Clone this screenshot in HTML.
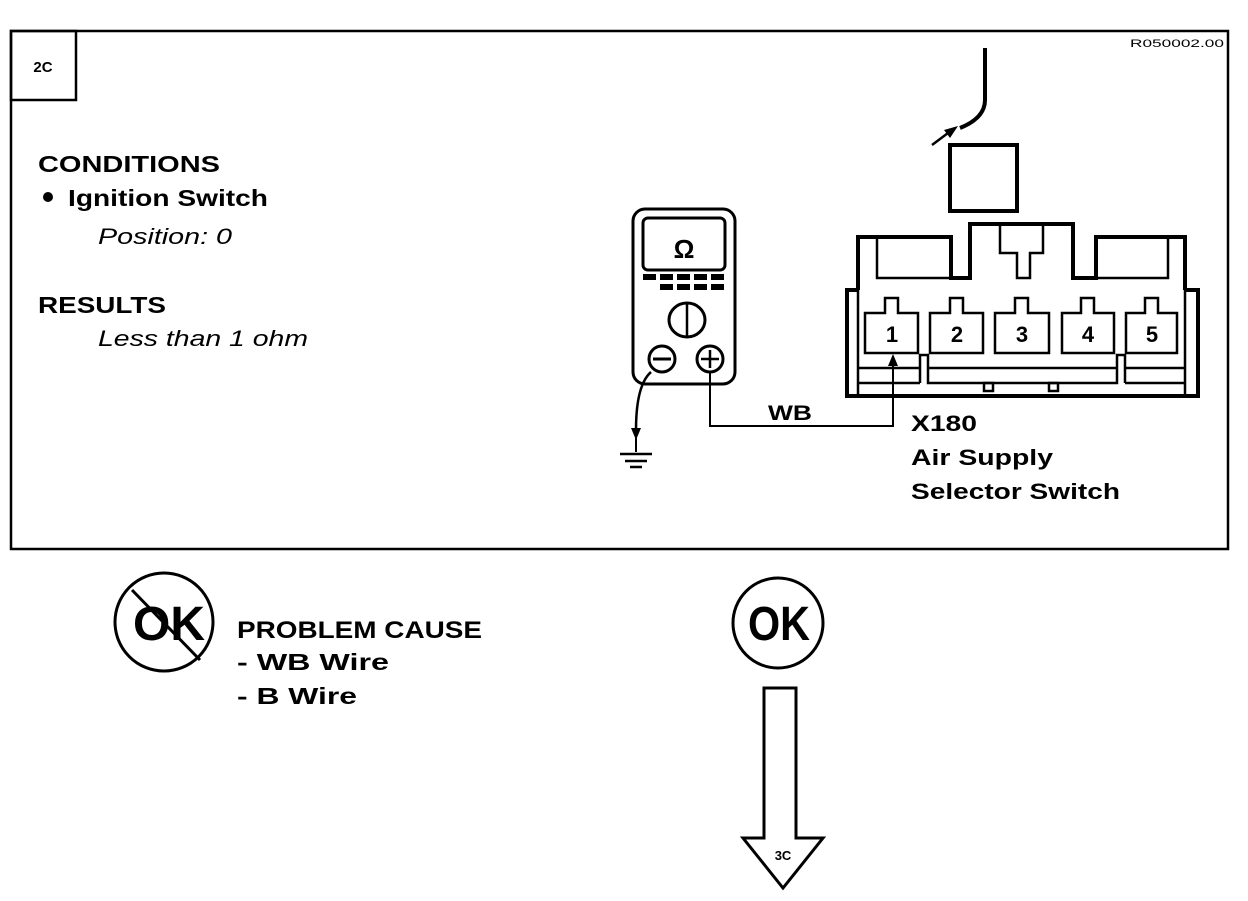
<!DOCTYPE html>
<html><head><meta charset="utf-8"><style>
html,body{margin:0;padding:0;background:#fff;}
body{width:1248px;height:896px;overflow:hidden;}
</style></head><body>
<svg width="1248" height="896" viewBox="0 0 1248 896" xmlns="http://www.w3.org/2000/svg" font-family="Liberation Sans, Arial, sans-serif" font-weight="bold">
<rect x="11" y="31" width="1217" height="518" fill="none" stroke="#000" stroke-width="2.5"/>
<rect x="11" y="31" width="65" height="69" fill="none" stroke="#000" stroke-width="2.5"/>
<text x="43" y="72" font-size="15" text-anchor="middle">2C</text>
<text x="1130" y="47" font-size="11" font-weight="normal" textLength="94" lengthAdjust="spacingAndGlyphs">R050002.00</text>

<text x="38" y="172" font-size="23" textLength="182" lengthAdjust="spacingAndGlyphs">CONDITIONS</text>
<circle cx="48" cy="197" r="5" fill="#000"/>
<text x="68" y="206" font-size="23" textLength="200" lengthAdjust="spacingAndGlyphs">Ignition Switch</text>
<text x="98" y="244" font-size="22" font-weight="normal" font-style="italic" textLength="134" lengthAdjust="spacingAndGlyphs">Position: 0</text>
<text x="38" y="313" font-size="23" textLength="128" lengthAdjust="spacingAndGlyphs">RESULTS</text>
<text x="98" y="346" font-size="22" font-weight="normal" font-style="italic" textLength="210" lengthAdjust="spacingAndGlyphs">Less than 1 ohm</text>

<!-- meter -->
<rect x="633" y="209" width="102" height="175" rx="12" fill="none" stroke="#000" stroke-width="3"/>
<rect x="643" y="218" width="82" height="52" rx="5" fill="none" stroke="#000" stroke-width="3"/>
<text x="684" y="258" font-size="26" text-anchor="middle">Ω</text>
<g fill="#000">
<rect x="643" y="274" width="13" height="6"/><rect x="660" y="274" width="13" height="6"/><rect x="677" y="274" width="13" height="6"/><rect x="694" y="274" width="13" height="6"/><rect x="711" y="274" width="13" height="6"/>
<rect x="660" y="284" width="13" height="6"/><rect x="677" y="284" width="13" height="6"/><rect x="694" y="284" width="13" height="6"/><rect x="711" y="284" width="13" height="6"/>
</g>
<ellipse cx="687" cy="320" rx="18" ry="17" fill="none" stroke="#000" stroke-width="3"/>
<line x1="687" y1="303" x2="687" y2="337" stroke="#000" stroke-width="2.5"/>
<circle cx="662" cy="359" r="13" fill="none" stroke="#000" stroke-width="3"/>
<line x1="653" y1="359" x2="671" y2="359" stroke="#000" stroke-width="3"/>
<circle cx="710" cy="359" r="13" fill="none" stroke="#000" stroke-width="3"/>
<line x1="701" y1="359" x2="719" y2="359" stroke="#000" stroke-width="2.5"/>
<line x1="710" y1="350" x2="710" y2="368" stroke="#000" stroke-width="2.5"/>
<!-- ground -->
<path d="M651 372 Q636 385 636 430" fill="none" stroke="#000" stroke-width="2.5"/>
<polygon points="631,428 641,428 636,440" fill="#000"/>
<line x1="636" y1="438" x2="636" y2="452" stroke="#000" stroke-width="2"/>
<line x1="620" y1="454" x2="652" y2="454" stroke="#000" stroke-width="2.5"/>
<line x1="625" y1="461" x2="647" y2="461" stroke="#000" stroke-width="2.5"/>
<line x1="630" y1="467" x2="642" y2="467" stroke="#000" stroke-width="2.5"/>
<!-- WB wire -->
<polyline points="710,372 710,426 893,426 893,362" fill="none" stroke="#000" stroke-width="2"/>
<polygon points="888,366 898,366 893,354" fill="#000"/>
<text x="768" y="420" font-size="21" textLength="44" lengthAdjust="spacingAndGlyphs">WB</text>

<!-- connector -->
<g fill="none" stroke="#000" stroke-width="4">
<polyline points="858,290 858,237 951,237 951,278 970,278 970,224 1073,224 1073,278 1096,278 1096,237 1185,237 1185,290"/>
<polyline points="858,290 847,290 847,396 1198,396 1198,290 1185,290"/>
<rect x="950" y="145" width="67" height="66"/>
</g>
<g fill="none" stroke="#000" stroke-width="2.5">
<polyline points="877,237 877,278 951,278"/>
<polyline points="1096,278 1168,278 1168,237"/>
<line x1="858" y1="290" x2="858" y2="396"/>
<line x1="1185" y1="290" x2="1185" y2="396"/>
<polyline points="1000,224 1000,253 1017,253 1017,278 1030,278 1030,253 1043,253 1043,224"/>
<line x1="858" y1="368" x2="920" y2="368"/>
<line x1="858" y1="383" x2="920" y2="383"/>
<polyline points="920,383 920,355 928,355 928,383 1117,383 1117,355 1125,355 1125,383"/>
<line x1="928" y1="368" x2="1117" y2="368"/>
<line x1="1125" y1="368" x2="1185" y2="368"/>
<line x1="1125" y1="383" x2="1185" y2="383"/>
<rect x="984" y="383" width="9" height="8"/>
<rect x="1049" y="383" width="9" height="8"/>
</g>
<g fill="none" stroke="#000" stroke-width="2.5">
<path d="M865 353 V313 H885 V298 H898 V313 H918 V353 Z"/>
<path d="M930 353 V313 H950 V298 H963 V313 H983 V353 Z"/>
<path d="M995 353 V313 H1015 V298 H1028 V313 H1049 V353 Z"/>
<path d="M1062 353 V313 H1081 V298 H1094 V313 H1114 V353 Z"/>
<path d="M1126 353 V313 H1145 V298 H1158 V313 H1177 V353 Z"/>
</g>
<g font-size="22" text-anchor="middle">
<text x="892" y="342">1</text><text x="957" y="342">2</text><text x="1022" y="342">3</text><text x="1088" y="342">4</text><text x="1152" y="342">5</text>
</g>
<!-- probe wire -->
<path d="M985 48 V100 Q985 118 960 128" fill="none" stroke="#000" stroke-width="4"/>
<line x1="932" y1="145" x2="952" y2="130" stroke="#000" stroke-width="2.5"/>
<polygon points="958,126 944,130 950,138" fill="#000"/>

<text x="911" y="431" font-size="22" textLength="66" lengthAdjust="spacingAndGlyphs">X180</text>
<text x="911" y="465" font-size="22" textLength="142" lengthAdjust="spacingAndGlyphs">Air Supply</text>
<text x="911" y="499" font-size="22" textLength="209" lengthAdjust="spacingAndGlyphs">Selector Switch</text>

<!-- bottom -->
<circle cx="164" cy="622" r="49" fill="none" stroke="#000" stroke-width="3"/>
<text x="133" y="640" font-size="48" textLength="72" lengthAdjust="spacingAndGlyphs">OK</text>
<line x1="132" y1="590" x2="200" y2="660" stroke="#000" stroke-width="3"/>
<text x="237" y="638" font-size="24" textLength="245" lengthAdjust="spacingAndGlyphs">PROBLEM CAUSE</text>
<text x="237" y="670" font-size="23" textLength="152" lengthAdjust="spacingAndGlyphs">-  WB   Wire</text>
<text x="237" y="704" font-size="23" textLength="120" lengthAdjust="spacingAndGlyphs">-  B  Wire</text>

<circle cx="778" cy="623" r="45" fill="none" stroke="#000" stroke-width="3"/>
<text x="748" y="640" font-size="48" textLength="62" lengthAdjust="spacingAndGlyphs">OK</text>
<polygon points="764,688 796,688 796,838 823,838 783,888 743,838 764,838" fill="none" stroke="#000" stroke-width="3"/>
<text x="783" y="860" font-size="13" text-anchor="middle">3C</text>
</svg>
</body></html>
